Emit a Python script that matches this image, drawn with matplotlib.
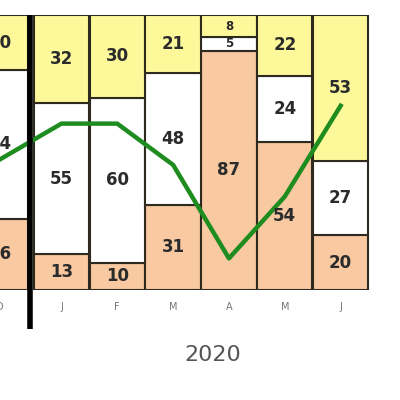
import matplotlib.pyplot as plt
import numpy as np

# months shown (D is the last month of 2019, cut off at the left edge)
months = ['D', 'J', 'F', 'M', 'A', 'M', 'J']
low = [26, 13, 10, 31, 87, 54, 20]      # orange (bottom)
mid = [54, 55, 60, 48, 5, 24, 27]       # white (middle)
high = [20, 32, 30, 21, 8, 22, 53]      # yellow (top)
trend = [47.5, 60.5, 60.5, 45.5, 11.5, 34, 67]  # green line

pos = np.array([-1.1, 0, 1, 2, 3, 4, 5])

fig = plt.figure(figsize=(4, 4), dpi=100)
ax = fig.add_axes([0, 0.275, 0.925, 0.6875])

orange = '#F9C9A2'
yellow = '#FDF99A'
edge = '#2e2a20'

ax.bar(pos, low, width=0.99, color=orange, edgecolor=edge, linewidth=1.5)
ax.bar(pos, mid, width=0.99, bottom=low, color='white', edgecolor=edge, linewidth=1.5)
bot2 = np.array(low) + np.array(mid)
ax.bar(pos, high, width=0.99, bottom=bot2, color=yellow, edgecolor=edge, linewidth=1.5)

ax.plot(pos, trend, color='#1e8c1e', linewidth=3.2, zorder=4)

# labels in the segments
for i in range(len(pos)):
    for val, b in [(low[i], 0), (mid[i], low[i]), (high[i], bot2[i])]:
        fs = 12 if val >= 10 else 8.5
        ax.text(pos[i], b + val / 2, str(val), ha='center', va='center',
                fontsize=fs, fontweight='bold', color='#2b2b2b', zorder=5)

# year separator
ax.plot([-0.56, -0.56], [-14, 100], color='black', linewidth=4,
        solid_capstyle='butt', clip_on=False, zorder=6)

ax.set_xlim(-0.965, 5.526)
ax.set_ylim(0, 100)
ax.set_xticks(pos)
ax.set_xticklabels(months, fontsize=7, color='#777777')
ax.tick_params(length=0, pad=9)
ax.set_yticks([])
for s in ax.spines.values():
    s.set_visible(False)

fig.text(213 / 400, 1 - 355 / 400, '2020', ha='center', va='center',
         fontsize=16, color='#555555')

fig.savefig('out.png', dpi=100)
